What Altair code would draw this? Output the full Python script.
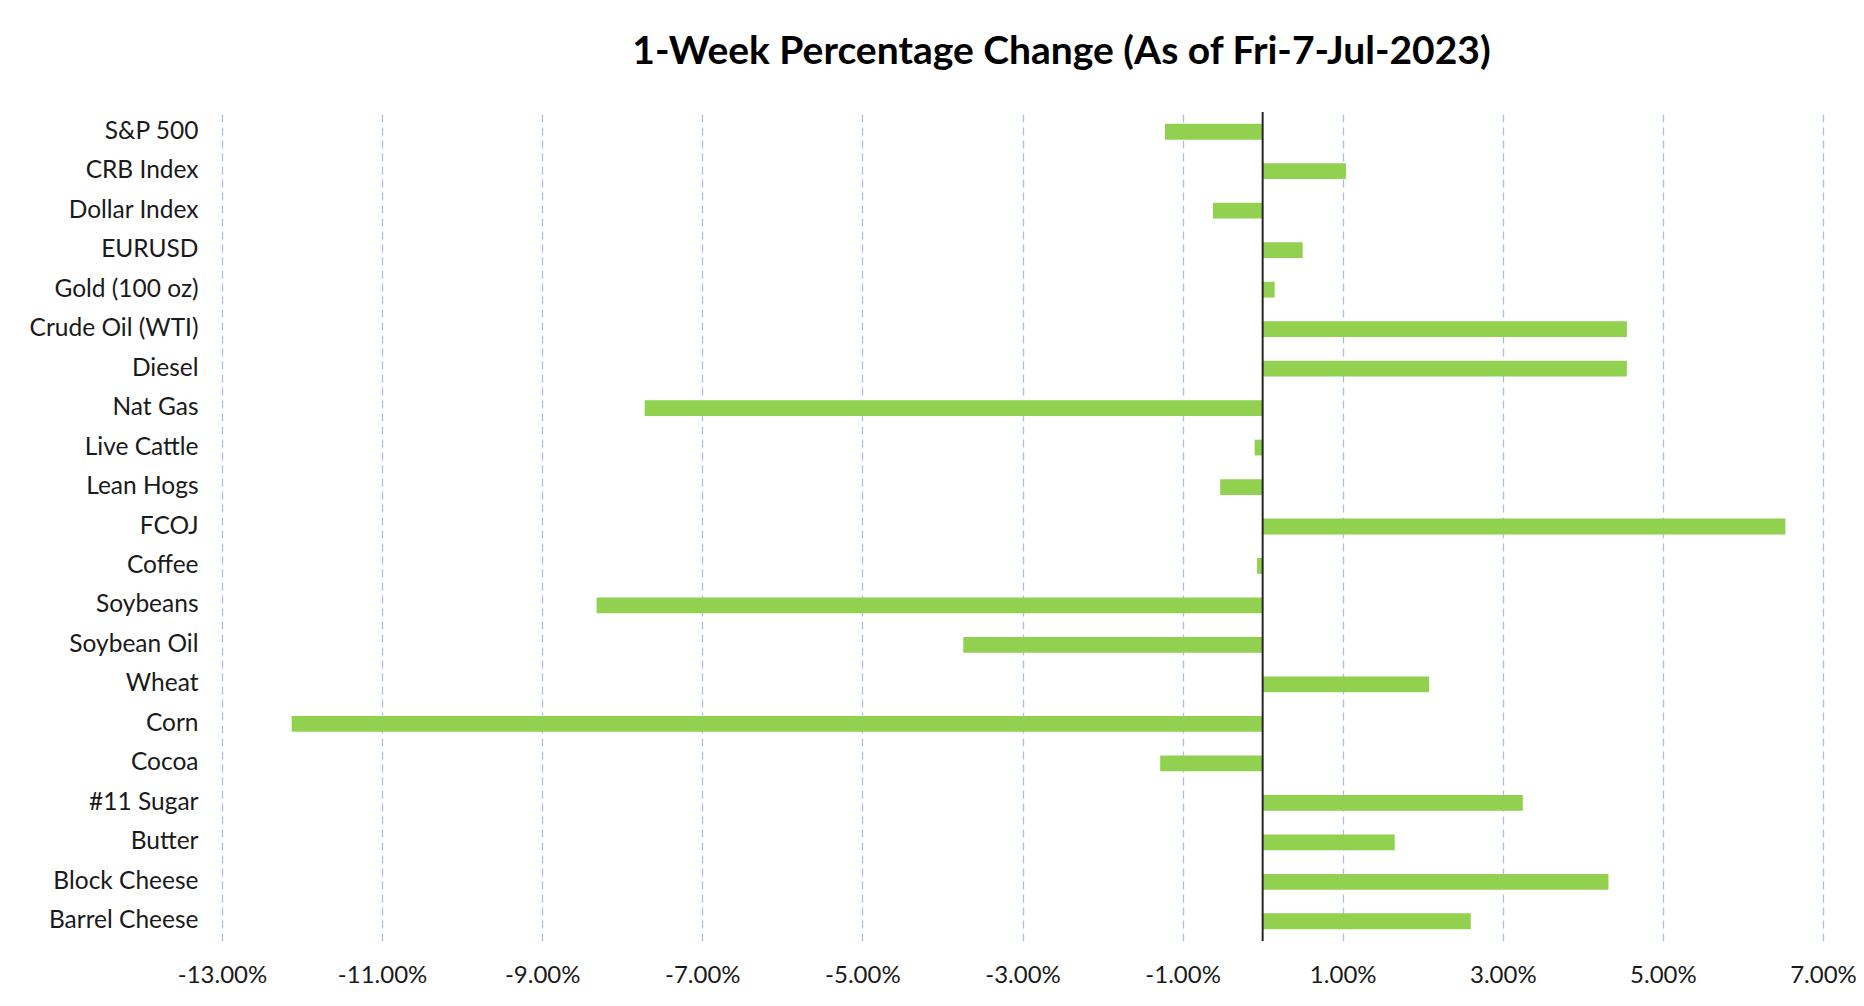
import altair as alt
import pandas as pd

categories = [
    "S&P 500", "CRB Index", "Dollar Index", "EURUSD", "Gold (100 oz)",
    "Crude Oil (WTI)", "Diesel", "Nat Gas", "Live Cattle", "Lean Hogs",
    "FCOJ", "Coffee", "Soybeans", "Soybean Oil", "Wheat", "Corn", "Cocoa",
    "#11 Sugar", "Butter", "Block Cheese", "Barrel Cheese",
]
changes_pct = [
    -1.22, 1.04, -0.62, 0.50, 0.15,
    4.55, 4.55, -7.72, -0.10, -0.53,
    6.53, -0.07, -8.32, -3.74, 2.08, -12.13, -1.28,
    3.25, 1.65, 4.32, 2.60,
]
tick_values = [-13, -11, -9, -7, -5, -3, -1, 1, 3, 5, 7]
x_domain = [-13, 7]
zero_line = [0]

FONT = "Lato"
TEXT = "#1a1a1a"

df = pd.DataFrame({"Commodity": categories, "Change": changes_pct})
zero_df = pd.DataFrame({"x": zero_line})

x_scale = alt.Scale(domain=x_domain, nice=False, zero=False)

bars = alt.Chart(df).mark_bar(color="#92D050").encode(
    x=alt.X(
        "Change:Q",
        scale=x_scale,
        axis=alt.Axis(
            values=tick_values,
            labelExpr="(datum.value < 0 ? '-' : '') + format(abs(datum.value), '.2f') + '%'",
            title=None,
            domain=False,
            ticks=False,
            grid=True,
            gridColor="#a9bfe3",
            gridDash=[8, 5],
            gridWidth=1.3,
            labelFont=FONT,
            labelFontSize=24,
            labelColor=TEXT,
            labelPadding=22,
            labelFlush=False,
            labelOverlap=False,
        ),
    ),
    x2=alt.datum(0),
    y=alt.Y(
        "Commodity:N",
        sort=categories,
        scale=alt.Scale(paddingInner=0.6, paddingOuter=0.3),
        axis=alt.Axis(
            title=None,
            domain=False,
            ticks=False,
            grid=False,
            labelFont=FONT,
            labelFontSize=24.5,
            labelColor=TEXT,
            labelPadding=24,
            labelLimit=400,
        ),
    ),
)

rule = alt.Chart(zero_df).mark_rule(color="#262626", strokeWidth=2).encode(
    x=alt.X("x:Q", scale=x_scale),
)

chart = alt.layer(bars, rule).properties(
    width=1601,
    height=829,
    title=alt.TitleParams(
        text="1-Week Percentage Change (As of Fri-7-Jul-2023)",
        font=FONT,
        fontSize=39,
        fontWeight="bold",
        color="#000000",
        anchor="middle",
        frame="group",
        dx=39,
        offset=39,
    ),
    autosize=alt.AutoSizeParams(type="none"),
    padding={"left": 214, "top": 104, "right": 33, "bottom": 55},
    background="white",
).configure_view(stroke=None)

chart.save("out.html", embed_options={"renderer": "svg", "actions": False})
